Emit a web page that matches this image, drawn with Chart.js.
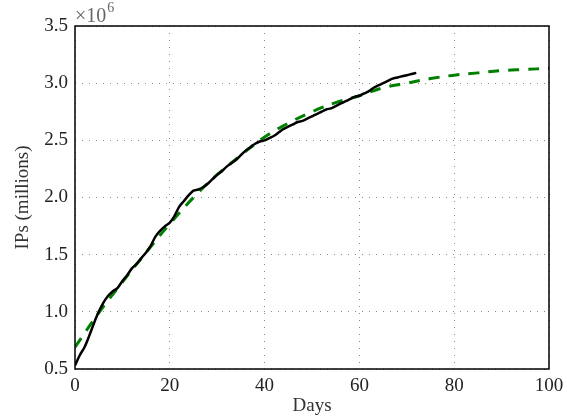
<!DOCTYPE html>
<html>
<head>
<meta charset="utf-8">
<script src="https://cdn.jsdelivr.net/npm/chart.js@4/dist/chart.umd.min.js"></script>
<style>
html,body{margin:0;padding:0;background:#fff;}
#wrap{width:567px;height:417px;}
</style>
</head>
<body>
<div id="wrap"><canvas id="c" width="567" height="417"></canvas></div>
<script>
// Observed data (millions of IPs)
const observedDays = [0,1,2,3,4,5,6,7,8,9,10,11,12,13,14,15,16,17,18,19,20,21,22,23,24,25,26,27,28,29,30,31,32,33,34,35,36,37,38,39,40,41,42,43,44,45,46,47,48,49,50,51,52,53,54,55,56,57,58,59,60,61,62,63,64,65,66,67,68,69,70,71,72];
const observedIPs = [0.53,0.62,0.69,0.79,0.90,1.00,1.08,1.14,1.18,1.21,1.27,1.32,1.38,1.42,1.47,1.52,1.58,1.66,1.71,1.75,1.78,1.84,1.92,1.97,2.02,2.06,2.07,2.09,2.12,2.16,2.20,2.23,2.27,2.30,2.33,2.37,2.41,2.44,2.47,2.49,2.50,2.52,2.54,2.57,2.60,2.62,2.64,2.66,2.67,2.69,2.71,2.73,2.75,2.77,2.78,2.80,2.82,2.84,2.86,2.88,2.89,2.91,2.93,2.96,2.98,3.00,3.02,3.04,3.05,3.06,3.07,3.08,3.09];
// Fitted model (dashed green)
const fitDays = [0,5,10,15,20,25,30,35,40,45,50,55,60,65,70,75,80,85,90,95,100];
const fitIPs = [0.69,0.99,1.26,1.52,1.77,2.00,2.20,2.37,2.53,2.65,2.75,2.83,2.89,2.96,3.00,3.04,3.07,3.09,3.11,3.12,3.13];
// Tick labels
const xTicks = [0,20,40,60,80,100];
const yTicks = [0.5,1.0,1.5,2.0,2.5,3.0,3.5];

const FONT = "'Liberation Serif', 'DejaVu Serif', serif";

const boxPlugin = {
  id: 'box',
  afterDraw(chart) {
    const {ctx, chartArea: a} = chart;
    ctx.save();
    ctx.strokeStyle = '#000';
    ctx.lineWidth = 1.5;
    ctx.strokeRect(a.left, a.top, a.right - a.left, a.bottom - a.top);
    ctx.fillStyle = '#666';
    ctx.textBaseline = 'alphabetic';
    ctx.font = "20px " + FONT;
    ctx.fillText('×10', a.left, a.top - 4);
    const w = ctx.measureText('×10').width;
    ctx.font = "14px " + FONT;
    ctx.fillText('6', a.left + w + 1, a.top - 14);
    ctx.restore();
  }
};

new Chart(document.getElementById('c'), {
  type: 'line',
  data: {
    datasets: [
      {
        data: observedDays.map((d, i) => ({x: d, y: observedIPs[i]})),
        borderColor: '#000',
        borderWidth: 2.5,
        pointRadius: 0,
        tension: 0.3,
        fill: false
      },
      {
        data: fitDays.map((d, i) => ({x: d, y: fitIPs[i]})),
        borderColor: '#008000',
        borderWidth: 3,
        borderDash: [11, 9],
        pointRadius: 0,
        tension: 0.4,
        fill: false
      }
    ]
  },
  options: {
    responsive: false,
    animation: false,
    layout: {padding: {top: 26, right: 18, left: 12, bottom: 0}},
    plugins: {legend: {display: false}, tooltip: {enabled: false}},
    scales: {
      x: {
        type: 'linear', min: 0, max: 100,
        afterBuildTicks(s) { s.ticks = xTicks.map(v => ({value: v})); },
        afterFit(s) { s.height = 48; s.paddingRight = 0; s.paddingLeft = 0; },
        grid: {color: '#888', lineWidth: 1, drawTicks: false},
        border: {display: false, dash: [1, 6]},
        ticks: {color: '#222', font: {family: FONT, size: 19}, padding: 6, maxRotation: 0},
        title: {display: true, text: 'Days', color: '#333', font: {family: FONT, size: 19}, padding: {top: 0, bottom: 0}}
      },
      y: {
        type: 'linear', min: 0.5, max: 3.5,
        afterBuildTicks(s) { s.ticks = yTicks.map(v => ({value: v})); },
        afterFit(s) { s.width = 63; s.paddingTop = 0; s.paddingBottom = 0; },
        grid: {color: '#888', lineWidth: 1, drawTicks: false},
        border: {display: false, dash: [1, 6]},
        ticks: {color: '#222', font: {family: FONT, size: 19}, padding: 7, callback: v => v.toFixed(1)},
        title: {display: true, text: 'IPs (millions)', color: '#333', font: {family: FONT, size: 19}, padding: {top: 0, bottom: 2}}
      }
    }
  },
  plugins: [boxPlugin]
});
</script>
</body>
</html>
